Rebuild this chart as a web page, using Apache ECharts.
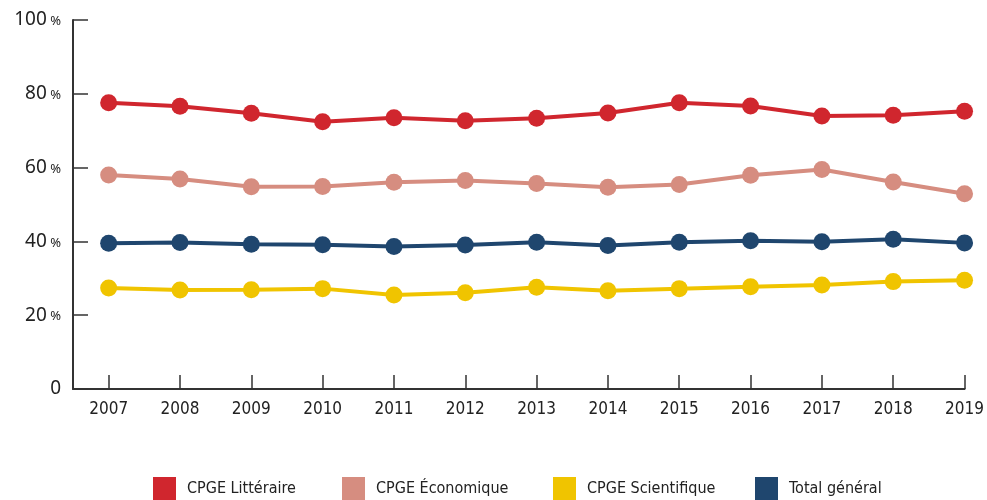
<!DOCTYPE html>
<html><head><meta charset="utf-8">
<script src="https://cdn.jsdelivr.net/npm/echarts@6/dist/echarts.min.js"></script>
<style>html,body{margin:0;padding:0;background:#fff}#c{width:987px;height:500px}</style>
</head><body><div id="c"></div>
<script>
var years = [2007,2008,2009,2010,2011,2012,2013,2014,2015,2016,2017,2018,2019];
var litteraire = [77.6,76.6,74.7,72.4,73.5,72.7,73.4,74.8,77.6,76.7,74.0,74.2,75.3];
var economique = [58.0,56.9,54.8,54.9,56.0,56.5,55.7,54.7,55.4,57.9,59.5,56.1,52.9];
var scientifique = [27.4,26.8,26.9,27.2,25.5,26.1,27.6,26.6,27.2,27.7,28.2,29.1,29.5];
var total = [39.5,39.7,39.2,39.1,38.6,39.0,39.8,38.9,39.8,40.2,39.9,40.6,39.6];
var seriesNames = ['CPGE Littéraire','CPGE Économique','CPGE Scientifique','Total général'];
var yTicks = [0,20,40,60,80,100];

var colors = ['#d0262e','#d68d80','#f0c400','#1f466e'];
var values = [litteraire, economique, scientifique, total];
var condensed = "'Liberation Sans Narrow','DejaVu Sans Condensed',sans-serif";

function pairs(v){ return years.map(function(y,i){ return [y, v[i]]; }); }

var legendLefts = [153, 342, 553, 755];
var chart = echarts.init(document.getElementById('c'), null, {renderer:'canvas'});
chart.setOption({
  animation: false,
  backgroundColor: '#fff',
  grid: {left: 73, right: 19, top: 20, bottom: 111, containLabel: false},
  legend: seriesNames.map(function(n,i){
    return {
      data: [n], left: legendLefts[i], top: 477, padding: 0, itemWidth: 23, itemHeight: 23, itemGap: 0,
      icon: 'rect', textStyle: {fontFamily: condensed, fontSize: 16, color: '#222', padding: [0,0,0,6]}
    };
  }),
  xAxis: {
    type: 'value', min: 2006.5, max: 2019,
    splitLine: {show: false},
    axisLine: {show: true, lineStyle: {color: '#333', width: 2}},
    axisTick: {show: true, inside: true, length: 14, customValues: years, lineStyle: {color: '#333', width: 1.5}},
    axisLabel: {customValues: years, formatter: function(v){ return String(v); }, fontFamily: condensed, fontSize: 17, color: '#222', margin: 12}
  },
  yAxis: {
    type: 'value', min: 0, max: 100, interval: 20,
    splitLine: {show: false},
    axisLine: {show: true, lineStyle: {color: '#333', width: 2}},
    axisTick: {show: true, inside: true, length: 15, lineStyle: {color: '#333', width: 1.5}},
    axisLabel: {
      margin: 12, color: '#222',
      formatter: function(v){ return v === 0 ? '{n|0}' : '{n|' + v + '}{p| %}'; },
      rich: {
        n: {fontFamily: "'Noto Sans',sans-serif", fontSize: 19, color: '#222'},
        p: {fontFamily: "'Noto Sans',sans-serif", fontSize: 13, color: '#222', padding: [3,0,0,0]}
      }
    }
  },
  series: seriesNames.map(function(n,i){
    return {
      name: n, type: 'line', data: pairs(values[i]),
      symbol: 'circle', symbolSize: 17,
      lineStyle: {color: colors[i], width: 4},
      itemStyle: {color: colors[i]},
      z: 10 - i
    };
  })
});
</script></body></html>
